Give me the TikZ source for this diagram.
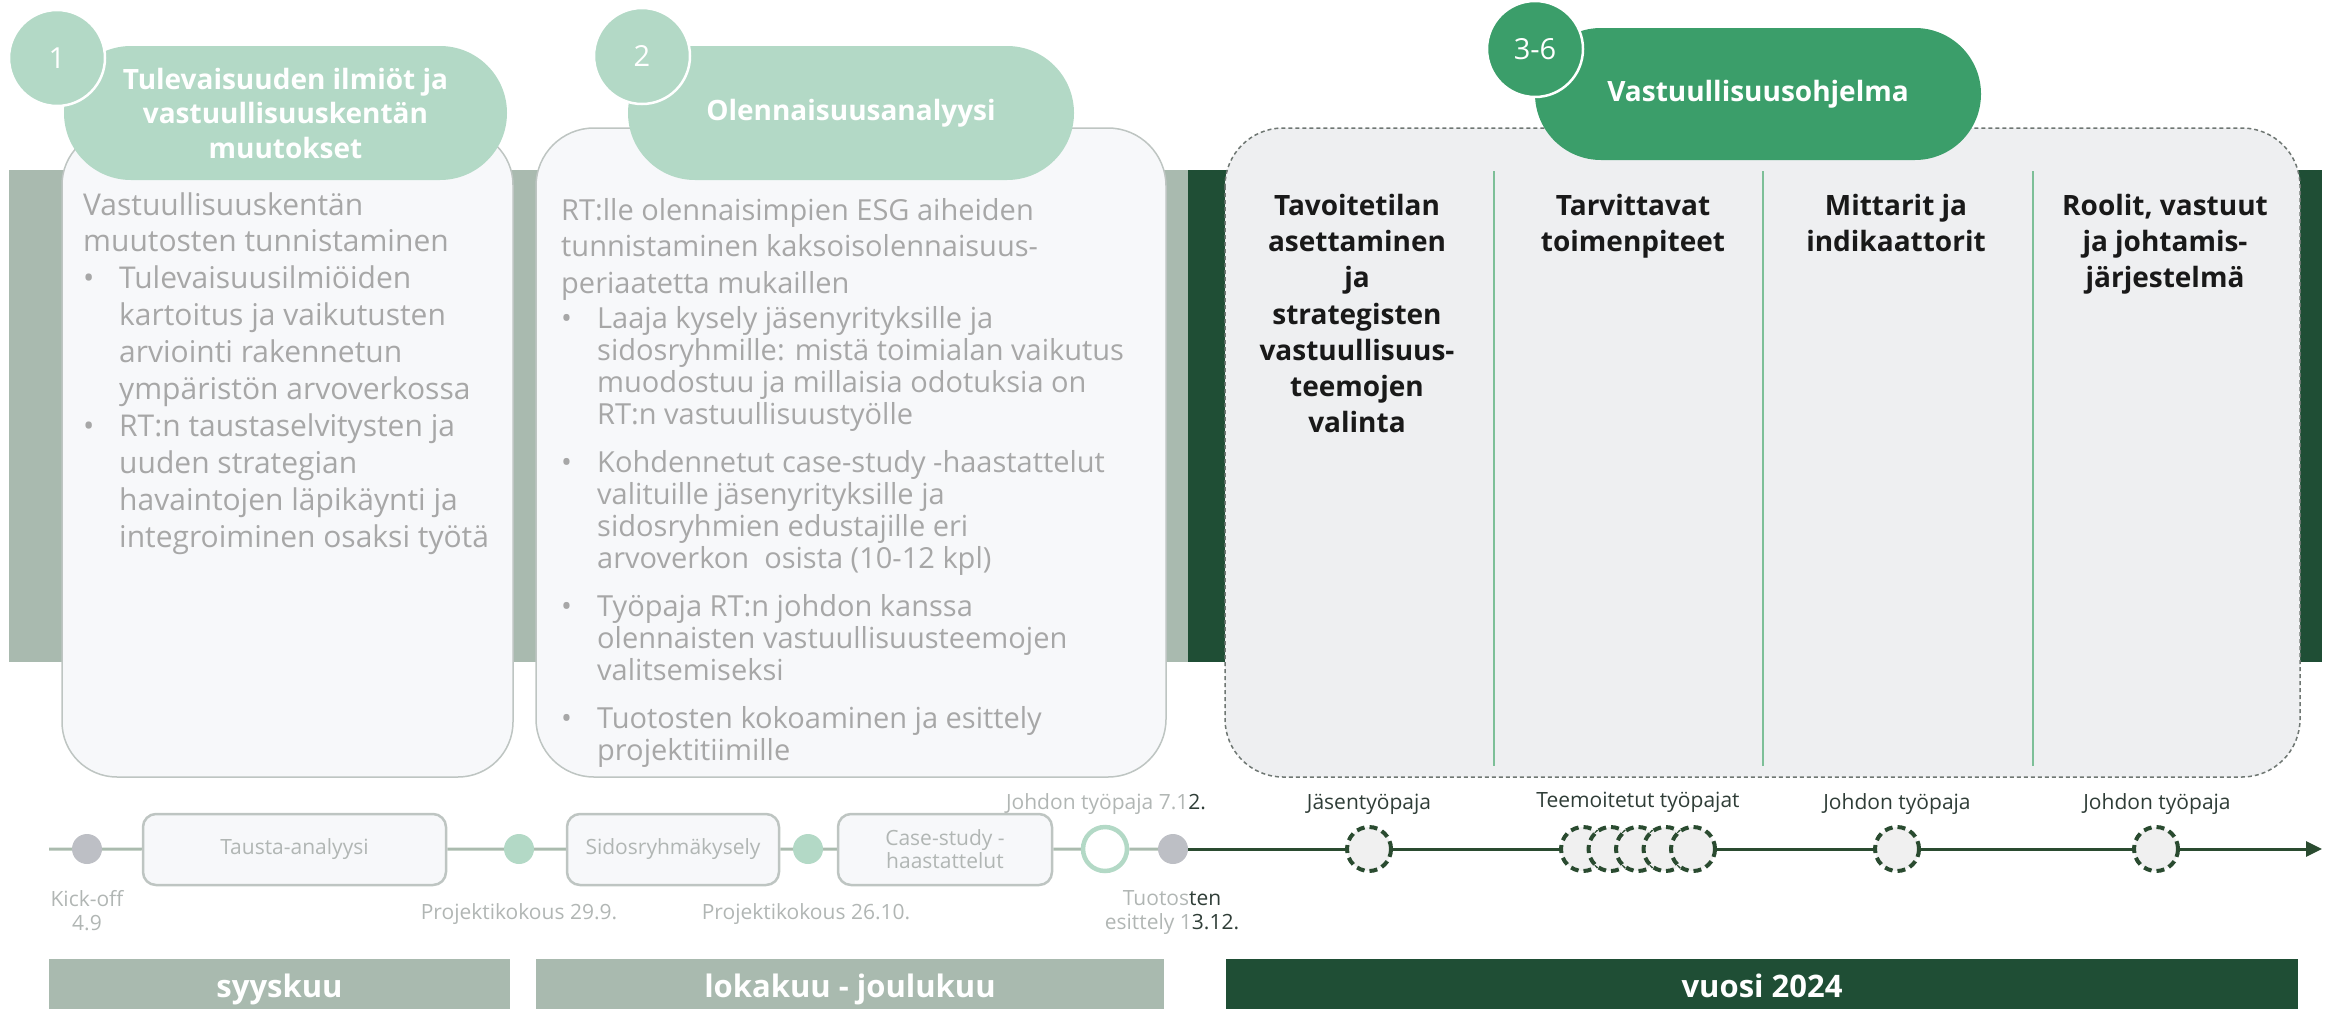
\documentclass[tikz,border=0pt]{standalone}
\usepackage{fontspec}
\setmainfont{Open Sans}
\usepackage{tikz}
\usetikzlibrary{arrows.meta, backgrounds, shapes.misc}

\definecolor{bandgrey}{HTML}{A9BAAF}
\definecolor{banddark}{HTML}{1F4E35}
\definecolor{mint}{HTML}{B3D9C6}
\definecolor{midgreen}{HTML}{3B9E6A}
\definecolor{boxfill}{HTML}{F7F8FA}
\definecolor{boxline}{HTML}{BEC5C2}
\definecolor{colfill}{HTML}{EEEFF1}
\definecolor{dashgrey}{HTML}{6F7773}
\definecolor{bodygrey}{HTML}{A7A7A7}
\definecolor{sepgreen}{HTML}{7DBF98}
\definecolor{tlgrey}{HTML}{AABBAE}
\definecolor{dotgrey}{HTML}{BDBFC5}
\definecolor{tldark}{HTML}{2A4B30}
\definecolor{lblgrey}{HTML}{B1B6B4}
\definecolor{lbldark}{HTML}{2F3D37}

\newcommand{\itm}{\makebox[36pt][l]{\textbullet}}
\newcommand{\cont}{\hspace*{36pt}}

\tikzset{
  pill/.style={rounded rectangle, minimum height=134, inner sep=0, text=white,
    align=center, font=\bfseries\fontsize{28}{34.5}\selectfont},
  numdot/.style={circle, minimum size=96, inner sep=0, draw=white, line width=2.5,
    text=white, font=\fontsize{29}{29}\selectfont},
  bodytext/.style={anchor=north west, inner sep=0, align=left, text=bodygrey},
  coltitle/.style={anchor=north, inner sep=0, align=center, text=black!90,
    font=\bfseries\fontsize{28}{36.2}\selectfont},
  stepbox/.style={draw=boxline, line width=2.5, fill=boxfill, rounded corners=13,
    minimum height=71, inner sep=0, text=lblgrey, align=center,
    font=\fontsize{21}{23}\selectfont},
  mdot/.style={circle, minimum size=30, inner sep=0},
  ws/.style={circle, minimum size=44, inner sep=0, fill=black!6, draw=tldark,
    line width=4, dash pattern=on 8 off 5},
  lbl/.style={anchor=base, inner sep=0, align=center, text=lblgrey,
    font=\fontsize{21}{24.5}\selectfont},
  month/.style={anchor=base, inner sep=0, text=white,
    font=\bfseries\fontsize{31}{31}\selectfont}
}

\begin{document}
\begin{tikzpicture}[x=1pt,y=-1pt]
\useasboundingbox (0,0) rectangle (2331,1009);
% bands
\fill[bandgrey] (9,170) rectangle (1188,662);
\fill[banddark] (1188,170) rectangle (2322,662);
% boxes
\filldraw[fill=boxfill, draw=boxline, line width=1.5, rounded corners=55] (62,130) rectangle (513,777);
\filldraw[fill=boxfill, draw=boxline, line width=1.5, rounded corners=58] (536,128) rectangle (1166,777);
\filldraw[fill=colfill, draw=dashgrey, line width=1.5, dash pattern=on 4 off 3,
  rounded corners=58] (1225,128) rectangle (2300,777);
\foreach \x in {1494,1763,2033}
  \draw[sepgreen, line width=2] (\x,171) -- (\x,766);

% headers
\node[pill, fill=mint, minimum width=443] (p1) at (285.5,113)
  {Tulevaisuuden ilmiöt ja\\vastuullisuuskentän\\muutokset};
\node[numdot, fill=mint] (n1) at (57,58) {1};
\node[pill, fill=mint, minimum width=446] (p2) at (851,113) {Olennaisuusanalyysi};
\node[numdot, fill=mint] (n2) at (642,56) {2};
\node[pill, fill=midgreen, minimum width=446, minimum height=132] (p3) at (1758,94)
  {Vastuullisuusohjelma};
\node[numdot, fill=midgreen] (n3) at (1535,49) {3-6};

% texts
\node[bodytext, font=\fontsize{30}{36.9}\selectfont] (txt1) at (83,192)
  {Vastuullisuuskentän\\muutosten tunnistaminen\\
   \itm Tulevaisuusilmiöiden\\\cont kartoitus ja vaikutusten\\
   \cont arviointi rakennetun\\\cont ympäristön arvoverkossa\\
   \itm RT:n taustaselvitysten ja\\\cont uuden strategian\\
   \cont havaintojen läpikäynti ja\\\cont integroiminen osaksi työtä};
\node[bodytext, font=\fontsize{29}{32}\selectfont] (txt2) at (561,198)
  {RT:lle olennaisimpien ESG aiheiden\\[4.5pt]tunnistaminen kaksoisolennaisuus-\\[4.5pt]
   periaatetta mukaillen\\[3pt]
   \itm Laaja kysely jäsenyrityksille ja\\\cont sidosryhmille: mistä toimialan vaikutus\\
   \cont muodostuu ja millaisia odotuksia on\\\cont RT:n vastuullisuustyölle\\[16pt]
   \itm Kohdennetut case-study -haastattelut\\\cont valituille jäsenyrityksille ja\\
   \cont sidosryhmien edustajille eri\\\cont arvoverkon \ osista (10-12 kpl)\\[16pt]
   \itm Työpaja RT:n johdon kanssa\\\cont olennaisten vastuullisuusteemojen\\
   \cont valitsemiseksi\\[16pt]
   \itm Tuotosten kokoaminen ja esittely\\\cont projektitiimille};
\node[coltitle] (c1) at (1357,194)
  {Tavoitetilan\\asettaminen\\ja\\strategisten\\vastuullisuus-\\teemojen\\valinta};
\node[coltitle] (c2) at (1633,194) {Tarvittavat\\toimenpiteet};
\node[coltitle] (c3) at (1896,194) {Mittarit ja\\indikaattorit};
\node[coltitle] (c4) at (2165,194) {Roolit, vastuut\\ja johtamis-\\järjestelmä};

% timeline
\node[mdot, fill=dotgrey] (kick) at (87,849) {};
\node[stepbox, minimum width=303] (tausta) at (294.5,849.5) {Tausta-analyysi};
\node[mdot, fill=mint] (pk1) at (519,849) {};
\node[stepbox, minimum width=212] (sidos) at (673,849.5) {Sidosryhmäkysely};
\node[mdot, fill=mint] (pk2) at (808,849) {};
\node[stepbox, minimum width=214] (case) at (945,849.5) {Case-study -\\haastattelut};
\node[circle, minimum size=44, inner sep=0, draw=mint, line width=4.5, fill=white] (jt) at (1105,849) {};
\node[mdot, fill=dotgrey] (tuot) at (1173,849) {};
\node[ws] (js) at (1369,849) {};
\foreach \i in {1,...,5}
  \node[ws] (tt\i) at (1555.5+27.5*\i,849) {};
\node[ws] (jt1) at (1897,849) {};
\node[ws] (jt2) at (2156,849) {};
\coordinate (tlstart) at (49,849);
\coordinate (tlend) at (2322,849);
\begin{scope}[on background layer]
\draw[tlgrey, line width=3] (tlstart) -- (kick) -- (tausta) -- (pk1) -- (sidos)
  -- (pk2) -- (case) -- (jt) -- (tuot);
\draw[tldark, line width=3, -{Triangle[length=16pt,width=15pt]}] (tuot) -- (tlend);
\end{scope}

% timeline labels
\node[lbl, anchor=north] (kick-l) at (87,890) {Kick-off\\4.9};
\node[lbl] (pk1-l) at (519,919) {Projektikokous 29.9.};
\node[lbl] (pk2-l) at (806,919) {Projektikokous 26.10.};
\node[lbl] (jt-l) at (1106,809) {Johdon työpaja 7.1\textcolor{lbldark}{2.}};
\node[lbl, anchor=north] (tuot-l) at (1172,890)
  {Tuotos\textcolor{lbldark}{ten}\\esittely 1\textcolor{lbldark}{3.12.}};
\node[lbl, text=lbldark] (js-l) at (1369,809) {Jäsentyöpaja};
\node[lbl, text=lbldark] (tt-l) at (1638,807) {Teemoitetut työpajat};
\node[lbl, text=lbldark] (jt1-l) at (1897,809) {Johdon työpaja};
\node[lbl, text=lbldark] (jt2-l) at (2157,809) {Johdon työpaja};

% months
\fill[bandgrey] (49,959) rectangle (510,1009);
\fill[bandgrey] (536,959) rectangle (1164,1009);
\fill[banddark] (1226,959) rectangle (2298,1009);
\node[month] (m1) at (279.5,997) {syyskuu};
\node[month] (m2) at (850,997) {lokakuu - joulukuu};
\node[month] (m3) at (1762,997) {vuosi 2024};
\end{tikzpicture}
\end{document}
